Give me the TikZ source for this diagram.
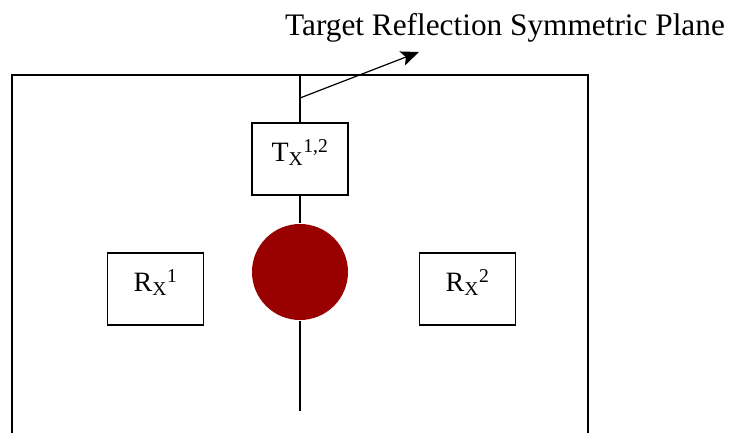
\documentclass[tikz,border=0pt]{standalone}
\usepackage{fontspec}
\setmainfont{Liberation Serif}
\usetikzlibrary{arrows.meta}
\definecolor{tgtred}{RGB}{153,0,0}

\begin{document}
\begin{tikzpicture}[x=1pt, y=-1pt, line width=1.6pt,
    antbox/.style={draw, rectangle, minimum width=96pt, minimum height=72pt,
      inner sep=0pt, text depth=17pt, font=\fontsize{28}{33}\selectfont}]
    \useasboundingbox (0,0) rectangle (732,433);
    % outer frame, open at the bottom
    \draw (12,433) -- (12,75) -- (588,75) -- (588,433);
    \coordinate (ptop) at (300,75);
    \coordinate (pbot) at (300,411);
    \coordinate (pfoot) at (300,98);
    \coordinate (ptip) at (419,52);
    \node[antbox] (tx) at (300,159) {T\textsubscript{X}\textsuperscript{1,2}};
    \node[circle, fill=tgtred, minimum size=96pt, inner sep=0pt] (tgt) at (300,272) {};
    \node[antbox] (rx1) at (155.5,289) {R\textsubscript{X}\textsuperscript{1}};
    \node[antbox] (rx2) at (467.5,289) {R\textsubscript{X}\textsuperscript{2}};
    % symmetric plane
    \draw (ptop) -- (tx);
    \draw (tx) -- (tgt);
    \draw (tgt) -- (pbot);
    \draw[line width=1.2pt, -{Stealth[length=18pt, width=15pt, inset=4pt]}] (pfoot) -- (ptip);
    \node[font=\fontsize{31.3}{38}\selectfont] (plane) at (505,28) {Target Reflection Symmetric Plane};
  \end{tikzpicture}
\end{document}
